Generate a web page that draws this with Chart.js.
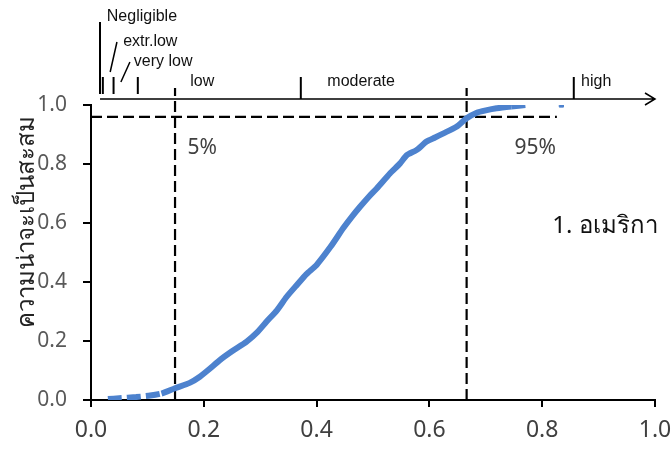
<!DOCTYPE html>
<html>
<head>
<meta charset="utf-8">
<script src="https://cdn.jsdelivr.net/npm/chart.js@4"></script>
<style>
  html, body { margin: 0; padding: 0; background: #fff; }
  #wrap { width: 672px; height: 449px; }
</style>
</head>
<body>
<div id="wrap"><canvas id="cdfChart" width="672" height="449"></canvas></div>
<script>
// cumulative curve
var riskValues = [0.03, 0.05, 0.08, 0.105, 0.125, 0.149, 0.175, 0.193, 0.21, 0.229, 0.25, 0.276, 0.295, 0.311, 0.33, 0.347, 0.365, 0.382, 0.4, 0.425, 0.447, 0.462, 0.477, 0.493, 0.507, 0.53, 0.548, 0.56, 0.577, 0.595, 0.61, 0.625, 0.648, 0.666, 0.684, 0.7, 0.719, 0.745, 0.772];
var cumProb = [0.003, 0.006, 0.01, 0.015, 0.022, 0.04, 0.058, 0.079, 0.105, 0.136, 0.165, 0.198, 0.23, 0.265, 0.305, 0.35, 0.39, 0.427, 0.458, 0.52, 0.582, 0.62, 0.655, 0.69, 0.718, 0.768, 0.802, 0.83, 0.847, 0.876, 0.89, 0.904, 0.926, 0.955, 0.974, 0.982, 0.989, 0.995, 1.0];
var outlierX = [0.834];
var outlierY = [1.0];

var xTicks = [0, 0.2, 0.4, 0.6, 0.8, 1.0];
var yTicks = [0, 0.2, 0.4, 0.6, 0.8, 1.0];

// percentiles
var p5 = 0.149;
var p95 = 0.666;
var p95Level = 0.96;
var p95LineEnd = 0.826;

// risk classes on the top scale
var classTicks = [0.021, 0.04, 0.083, 0.149, 0.372, 0.666, 0.856];
var classLabels = ['low', 'moderate', 'high'];
var classLabelAt = [0.176, 0.419, 0.869];

var yTitle = 'ความน่าจะเป็นสะสม';
var regionLabel = '1. อเมริกา';

var curveData = riskValues.map(function(x, i) { return {x: x, y: cumProb[i]}; });
var outlierData = outlierX.map(function(x, i) { return {x: x, y: outlierY[i]}; });

var blue = '#4D82CE';

var annotations = {
    id: 'annotations',
    beforeDatasetsDraw: function(chart) {
        var ctx = chart.ctx;
        var xs = chart.scales.x, ys = chart.scales.y;
        var area = chart.chartArea;
        ctx.save();
        ctx.strokeStyle = '#000';
        ctx.lineWidth = 2.2;
        ctx.setLineDash([11, 5]);
        // vertical percentile lines
        [p5, p95].forEach(function(v) {
            var px = xs.getPixelForValue(v);
            ctx.beginPath();
            ctx.moveTo(px, area.bottom);
            ctx.lineTo(px, area.top - 17);
            ctx.stroke();
        });
        // horizontal 95% line
        var py = ys.getPixelForValue(p95Level);
        ctx.beginPath();
        ctx.moveTo(area.left, py);
        ctx.lineTo(xs.getPixelForValue(p95LineEnd), py);
        ctx.stroke();
        ctx.restore();
    },
    afterDraw: function(chart) {
        var ctx = chart.ctx;
        var xs = chart.scales.x;
        var area = chart.chartArea;
        var lineY = area.top - 6;
        ctx.save();
        ctx.strokeStyle = '#000';
        ctx.fillStyle = '#000';
        ctx.lineWidth = 1.5;
        // top scale with arrow
        var startX = xs.getPixelForValue(0.016);
        ctx.beginPath();
        ctx.moveTo(startX, lineY);
        ctx.lineTo(area.right, lineY);
        ctx.moveTo(area.right - 10, lineY - 6);
        ctx.lineTo(area.right, lineY);
        ctx.lineTo(area.right - 10, lineY + 6);
        ctx.stroke();
        // Negligible marker line
        ctx.lineWidth = 2;
        ctx.beginPath();
        ctx.moveTo(startX, area.top - 11);
        ctx.lineTo(startX, area.top - 83);
        ctx.stroke();
        // class ticks
        classTicks.forEach(function(v, i) {
            var px = xs.getPixelForValue(v);
            if (v === p5 || v === p95) return;
            ctx.beginPath();
            if (i < 3) {
                ctx.moveTo(px, area.top - 11);
                ctx.lineTo(px, area.top - 28);
            } else {
                ctx.moveTo(px, lineY);
                ctx.lineTo(px, area.top - 28);
            }
            ctx.stroke();
        });
        // slanted leaders
        ctx.lineWidth = 1.5;
        ctx.beginPath();
        ctx.moveTo(xs.getPixelForValue(0.046), area.top - 63);
        ctx.lineTo(xs.getPixelForValue(0.034), area.top - 33);
        ctx.moveTo(xs.getPixelForValue(0.069), area.top - 43);
        ctx.lineTo(xs.getPixelForValue(0.053), area.top - 23);
        ctx.stroke();

        ctx.font = '16px "Liberation Sans", Arial, sans-serif';
        ctx.textAlign = 'left';
        ctx.textBaseline = 'middle';
        ctx.fillStyle = '#111';
        ctx.fillText('Negligible', xs.getPixelForValue(0.028), area.top - 88);
        ctx.fillText('extr.low', xs.getPixelForValue(0.057), area.top - 63);
        ctx.fillText('very low', xs.getPixelForValue(0.076), area.top - 43);
        classLabels.forEach(function(t, i) {
            ctx.fillText(t, xs.getPixelForValue(classLabelAt[i]), area.top - 23);
        });

        // percentile labels
        ctx.font = '21px "Noto Sans", sans-serif';
        ctx.fillStyle = '#404040';
        ctx.fillText('5%', xs.getPixelForValue(0.171), area.top + 43);
        ctx.fillText('95%', xs.getPixelForValue(0.751), area.top + 43);

        // region label
        ctx.font = '24px "Noto Sans", sans-serif';
        ctx.fillStyle = '#111';
        ctx.fillText(regionLabel, xs.getPixelForValue(0.818), chart.scales.y.getPixelForValue(0.59));

        // y title
        ctx.translate(27, chart.scales.y.getPixelForValue(0.605));
        ctx.rotate(-Math.PI / 2);
        ctx.textAlign = 'center';
        ctx.font = '24px "Noto Sans", sans-serif';
        ctx.fillStyle = '#222';
        ctx.fillText(yTitle, 0, 0);
        ctx.restore();
    }
};

var chart = new Chart(document.getElementById('cdfChart').getContext('2d'), {
    type: 'scatter',
    data: {
        datasets: [{
            data: curveData,
            showLine: true,
            borderColor: blue,
            borderWidth: 6,
            pointRadius: 0,
            tension: 0.2,
            segment: {
                borderDash: function(c) {
                    var x0 = c.p0.parsed.x;
                    return (x0 < 0.12 || x0 > 0.74) ? [14, 5] : undefined;
                }
            }
        }, {
            data: outlierData,
            pointStyle: 'rect',
            pointRadius: 3,
            backgroundColor: blue,
            borderColor: blue
        }]
    },
    options: {
        responsive: false,
        animation: false,
        layout: { padding: { top: 105, right: 0, left: 0, bottom: 0 } },
        plugins: {
            legend: { display: false },
            tooltip: { enabled: false }
        },
        scales: {
            x: {
                type: 'linear',
                min: 0,
                max: 1,
                afterFit: function(s) {
                    s.height = 49;
                    s.paddingRight = 17;
                    s.paddingLeft = 0;
                },
                afterBuildTicks: function(s) { s.ticks = xTicks.map(function(v) { return {value: v}; }); },
                border: { color: '#000', width: 2 },
                grid: { drawOnChartArea: false, color: '#000', tickLength: 7, lineWidth: 2 },
                ticks: {
                    padding: 10,
                    color: '#404040',
                    font: { family: '"Noto Sans", sans-serif', size: 23 },
                    callback: function(v) { return v.toFixed(1); }
                }
            },
            y: {
                min: 0,
                max: 1,
                afterFit: function(s) {
                    s.width = 91;
                    s.paddingTop = 0;
                    s.paddingBottom = 0;
                },
                afterBuildTicks: function(s) { s.ticks = yTicks.map(function(v) { return {value: v}; }); },
                border: { color: '#000', width: 2 },
                grid: { drawOnChartArea: false, color: '#000', tickLength: 8, lineWidth: 2 },
                ticks: {
                    padding: 16,
                    color: '#595959',
                    font: { family: '"Noto Sans", sans-serif', size: 21 },
                    callback: function(v) { return v.toFixed(1); }
                }
            }
        }
    },
    plugins: [annotations]
});
</script>
</body>
</html>
